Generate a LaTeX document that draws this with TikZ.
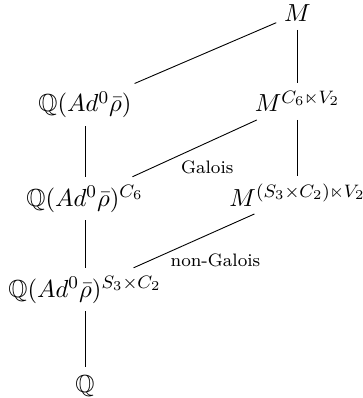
\documentclass[tikz,border=0pt]{standalone}
\usepackage{amssymb}
\begin{document}
\begin{tikzpicture}[x=0.444pt,y=-0.444pt,
  field/.style={anchor=base, inner sep=3.33pt, font=\fontsize{10.95}{13}\selectfont},
  lab/.style={font=\footnotesize, inner sep=0pt}]
\useasboundingbox (0,0) rectangle (362,398);
\node[field] (M)  at (297.5,22)  {$M$};
\node[field] (QA) at (85,112)    {$\mathbb{Q}(Ad^0\bar\rho)$};
\node[field] (MC) at (297.5,112) {$M^{C_6\ltimes V_2}$};
\node[field] (QC) at (85,206)    {$\mathbb{Q}(Ad^0\bar\rho)^{C_6}$};
\node[field] (MS) at (297.5,206) {$M^{(S_3\times C_2)\ltimes V_2}$};
\node[field] (QS) at (85,297)    {$\mathbb{Q}(Ad^0\bar\rho)^{S_3\times C_2}$};
\node[field] (Q)  at (85,392)    {$\mathbb{Q}$};
\draw (M) -- (QA);
\draw (M) -- (MC);
\draw (QA) -- (QC);
\draw (MC) -- node[lab, xshift=5.6pt, yshift=-8.6pt] {Galois} (QC);
\draw (MC) -- (MS);
\draw (QC) -- (QS);
\draw (MS) -- node[lab, xshift=9.5pt, yshift=-8.6pt] {non-Galois} (QS);
\draw (QS) -- (Q);
\end{tikzpicture}
\end{document}
